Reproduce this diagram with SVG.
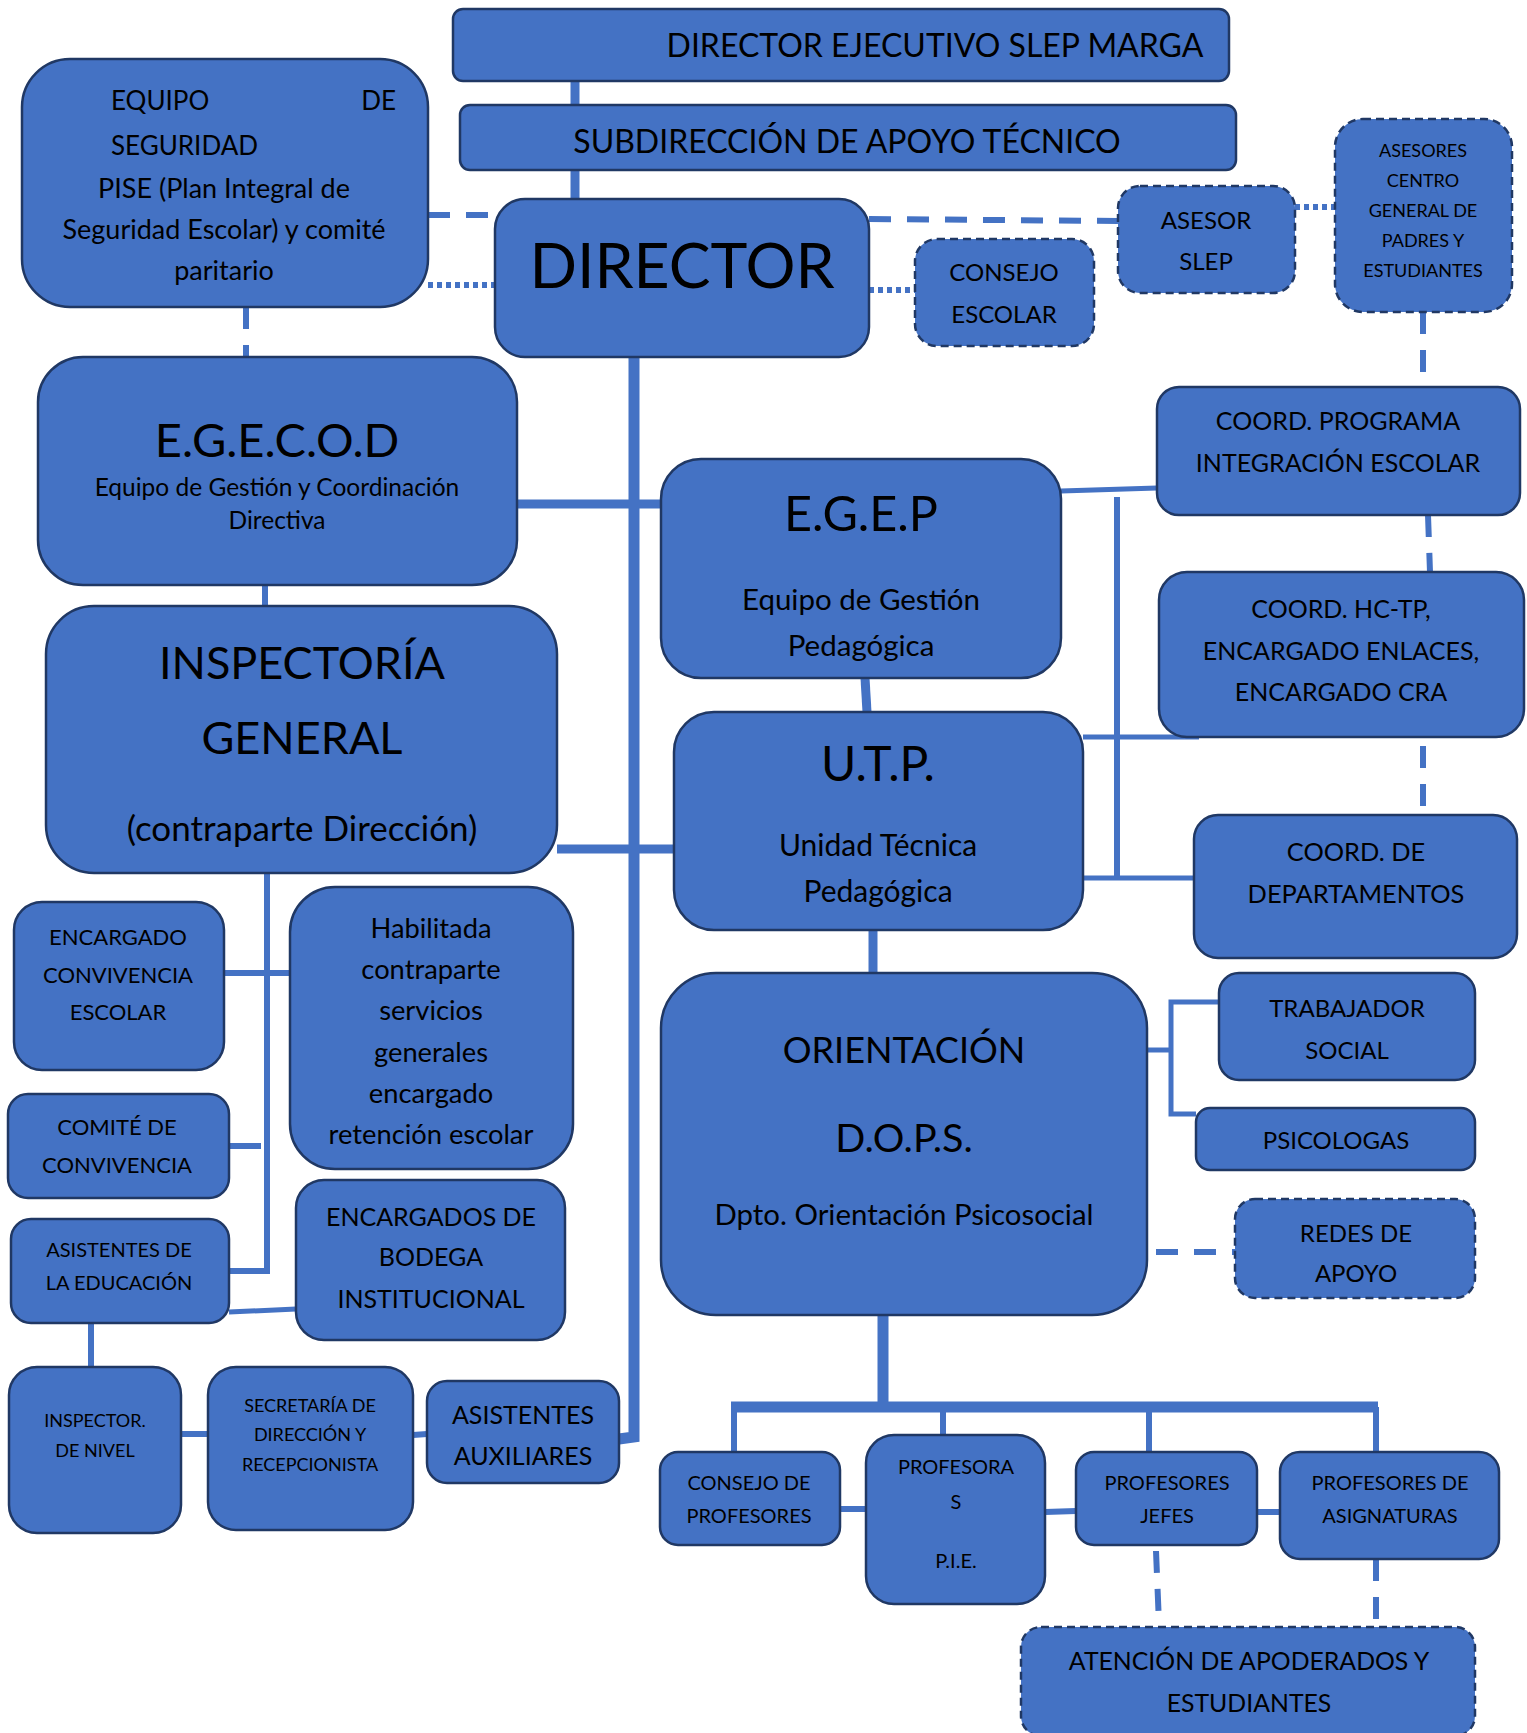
<svg xmlns="http://www.w3.org/2000/svg" width="1527" height="1733" viewBox="0 0 1527 1733">
<style>
.n{fill:#4472C4;stroke:#203864;stroke-width:2.5}
.d{fill:#4472C4;stroke:#203864;stroke-width:2.5;stroke-dasharray:8 5}
text{font-family:Lato,"Open Sans","Liberation Sans",sans-serif;fill:#000;text-anchor:middle}
text.s{text-anchor:start}
text.e{text-anchor:end}
.c{stroke:#4472C4;fill:none}
.dash{stroke:#4472C4;fill:none;stroke-width:6;stroke-dasharray:22 16}
.dot{stroke:#4472C4;fill:none;stroke-width:6;stroke-dasharray:5 4}
</style>
<rect width="1527" height="1733" fill="#fff"/>
<g id="connectors">
<line class="c" x1="575" y1="81" x2="575" y2="105" stroke-width="9"/>
<line class="c" x1="575" y1="170" x2="575" y2="199" stroke-width="9"/>
<line class="dash" x1="428" y1="215" x2="495" y2="215"/>
<line class="dot" x1="428" y1="285" x2="495" y2="285"/>
<line class="dash" x1="246" y1="307" x2="246" y2="357" stroke-dasharray="22 17"/>
<line class="dash" x1="869" y1="219" x2="1118" y2="221"/>
<line class="dot" x1="869" y1="290" x2="915" y2="290"/>
<line class="dot" x1="1295" y1="207" x2="1335" y2="207"/>
<line class="dash" x1="1423" y1="312" x2="1423" y2="387" stroke-dasharray="24 14"/>
<line class="c" x1="265" y1="585" x2="265" y2="606" stroke-width="6"/>
<polyline class="c" points="634,357 634,1437 619,1439" stroke-width="11"/>
<line class="c" x1="517" y1="504" x2="661" y2="504" stroke-width="9"/>
<line class="c" x1="557" y1="849" x2="674" y2="849" stroke-width="9"/>
<line class="c" x1="865" y1="678" x2="867" y2="712" stroke-width="9"/>
<line class="c" x1="873" y1="930" x2="873" y2="973" stroke-width="9"/>
<line class="c" x1="1061" y1="491" x2="1157" y2="488" stroke-width="5"/>
<line class="c" x1="1117" y1="497" x2="1117" y2="878" stroke-width="6"/>
<line class="c" x1="1083" y1="737" x2="1199" y2="737" stroke-width="5"/>
<line class="c" x1="1083" y1="878" x2="1194" y2="878" stroke-width="5"/>
<line class="dash" x1="1428" y1="515" x2="1430" y2="572" stroke-dasharray="20 16"/>
<line class="dash" x1="1423" y1="746" x2="1423" y2="815" stroke-dasharray="22 16"/>
<polyline class="c" points="1147,1050 1171,1050" stroke-width="5"/>
<polyline class="c" points="1219,1002 1171,1002 1171,1114 1196,1114" stroke-width="5"/>
<line class="dash" x1="1156" y1="1252" x2="1235" y2="1252"/>
<line class="c" x1="883" y1="1315" x2="883" y2="1407" stroke-width="11"/>
<line class="c" x1="731" y1="1407" x2="1378" y2="1407" stroke-width="11"/>
<line class="c" x1="734" y1="1407" x2="734" y2="1452" stroke-width="6"/>
<line class="c" x1="943" y1="1407" x2="943" y2="1435" stroke-width="6"/>
<line class="c" x1="1149" y1="1407" x2="1149" y2="1452" stroke-width="6"/>
<line class="c" x1="1376" y1="1407" x2="1376" y2="1452" stroke-width="6"/>
<line class="c" x1="840" y1="1509" x2="866" y2="1509" stroke-width="6"/>
<line class="c" x1="1045" y1="1512" x2="1076" y2="1511" stroke-width="6"/>
<line class="c" x1="1257" y1="1512" x2="1280" y2="1512" stroke-width="6"/>
<line class="dash" x1="1156" y1="1551" x2="1159" y2="1624" stroke-dasharray="24 18"/>
<line class="dash" x1="1376" y1="1559" x2="1376" y2="1624" stroke-dasharray="22 18"/>
<polyline class="c" points="267,873 267,1271 229,1271" stroke-width="6"/>
<line class="c" x1="224" y1="973" x2="290" y2="973" stroke-width="6"/>
<line class="c" x1="229" y1="1146" x2="261" y2="1146" stroke-width="6"/>
<line class="c" x1="229" y1="1312" x2="296" y2="1309" stroke-width="5"/>
<line class="c" x1="91" y1="1323" x2="91" y2="1367" stroke-width="6"/>
<line class="c" x1="181" y1="1434" x2="208" y2="1434" stroke-width="6"/>
<line class="c" x1="413" y1="1435" x2="427" y2="1434" stroke-width="6"/>
</g>
<g id="ejecutivo"><rect class="n" x="453" y="9" width="776" height="72" rx="10"/><text x="935" y="57" font-size="32">DIRECTOR EJECUTIVO SLEP MARGA</text></g>
<g id="subdireccion"><rect class="n" x="460" y="105" width="776" height="65" rx="10"/><text x="847" y="153" font-size="32">SUBDIRECCIÓN DE APOYO TÉCNICO</text></g>
<g id="director"><rect class="n" x="495" y="199" width="374" height="158" rx="30"/><text x="682" y="288" font-size="62.5">DIRECTOR</text></g>
<g id="seguridad"><rect class="n" x="22" y="59" width="406" height="248" rx="48"/>
<text class="s" x="111" y="110" font-size="26">EQUIPO</text><text class="e" x="396" y="110" font-size="26">DE</text>
<text class="s" x="111" y="155" font-size="26">SEGURIDAD</text>
<text x="224" y="198" font-size="27">PISE (Plan Integral de</text>
<text x="224" y="239" font-size="27">Seguridad Escolar) y comité</text>
<text x="224" y="280" font-size="27">paritario</text></g>
<g id="consejo-escolar"><rect class="d" x="915" y="239" width="179" height="107" rx="22"/><text x="1004" y="281" font-size="24">CONSEJO</text><text x="1004" y="323" font-size="24">ESCOLAR</text></g>
<g id="asesor-slep"><rect class="d" x="1118" y="186" width="177" height="107" rx="22"/><text x="1206" y="229" font-size="24">ASESOR</text><text x="1206" y="270" font-size="24">SLEP</text></g>
<g id="asesores-centro"><rect class="d" x="1335" y="119" width="177" height="193" rx="28"/>
<text x="1423" y="157" font-size="18">ASESORES</text><text x="1423" y="187" font-size="18">CENTRO</text><text x="1423" y="217" font-size="18">GENERAL DE</text><text x="1423" y="247" font-size="18">PADRES Y</text><text x="1423" y="277" font-size="18">ESTUDIANTES</text></g>
<g id="egecod"><rect class="n" x="38" y="357" width="479" height="228" rx="45"/>
<text x="277" y="457" font-size="47">E.G.E.C.O.D</text><text x="277" y="496" font-size="24.5">Equipo de Gestión y Coordinación</text><text x="277" y="529" font-size="24.5">Directiva</text></g>
<g id="inspectoria"><rect class="n" x="46" y="606" width="511" height="267" rx="48"/>
<text x="302" y="679" font-size="45">INSPECTORÍA</text><text x="302" y="754" font-size="45">GENERAL</text><text x="302" y="841" font-size="35">(contraparte Dirección)</text></g>
<g id="egep"><rect class="n" x="661" y="459" width="400" height="219" rx="40"/>
<text x="861" y="531" font-size="48.5">E.G.E.P</text><text x="861" y="610" font-size="29.5">Equipo de Gestión</text><text x="861" y="656" font-size="29.5">Pedagógica</text></g>
<g id="utp"><rect class="n" x="674" y="712" width="409" height="218" rx="40"/>
<text x="878" y="781" font-size="48">U.T.P.</text><text x="878" y="856" font-size="30">Unidad Técnica</text><text x="878" y="902" font-size="30">Pedagógica</text></g>
<g id="coord-pie"><rect class="n" x="1157" y="387" width="363" height="128" rx="22"/><text x="1338" y="430" font-size="25">COORD. PROGRAMA</text><text x="1338" y="472" font-size="25">INTEGRACIÓN ESCOLAR</text></g>
<g id="coord-hctp"><rect class="n" x="1159" y="572" width="365" height="165" rx="28"/><text x="1341" y="618" font-size="25">COORD. HC-TP,</text><text x="1341" y="660" font-size="25">ENCARGADO ENLACES,</text><text x="1341" y="701" font-size="25">ENCARGADO CRA</text></g>
<g id="coord-dep"><rect class="n" x="1194" y="815" width="323" height="143" rx="24"/><text x="1356" y="861" font-size="25.4">COORD. DE</text><text x="1356" y="903" font-size="25.4">DEPARTAMENTOS</text></g>
<g id="orientacion"><rect class="n" x="661" y="973" width="486" height="342" rx="55"/>
<text x="904" y="1063" font-size="36">ORIENTACIÓN</text><text x="904" y="1152" font-size="39.5">D.O.P.S.</text><text x="904" y="1225" font-size="29.4">Dpto. Orientación Psicosocial</text></g>
<g id="trabajador"><rect class="n" x="1219" y="973" width="256" height="107" rx="20"/><text x="1347" y="1017" font-size="24">TRABAJADOR</text><text x="1347" y="1059" font-size="24">SOCIAL</text></g>
<g id="psicologas"><rect class="n" x="1196" y="1108" width="279" height="62" rx="14"/><text x="1336" y="1149" font-size="24">PSICOLOGAS</text></g>
<g id="redes"><rect class="d" x="1235" y="1199" width="240" height="99" rx="20"/><text x="1356" y="1242" font-size="24">REDES DE</text><text x="1356" y="1282" font-size="24">APOYO</text></g>
<g id="consejo-prof"><rect class="n" x="660" y="1452" width="180" height="93" rx="18"/><text x="749" y="1490" font-size="20">CONSEJO DE</text><text x="749" y="1523" font-size="20">PROFESORES</text></g>
<g id="profesoras-pie"><rect class="n" x="866" y="1435" width="179" height="169" rx="28"/><text x="956" y="1474" font-size="20">PROFESORA</text><text x="956" y="1509" font-size="20">S</text><text x="956" y="1568" font-size="20">P.I.E.</text></g>
<g id="prof-jefes"><rect class="n" x="1076" y="1452" width="181" height="93" rx="18"/><text x="1167" y="1490" font-size="20">PROFESORES</text><text x="1167" y="1523" font-size="20">JEFES</text></g>
<g id="prof-asig"><rect class="n" x="1280" y="1452" width="219" height="107" rx="20"/><text x="1390" y="1490" font-size="20">PROFESORES DE</text><text x="1390" y="1523" font-size="20">ASIGNATURAS</text></g>
<g id="atencion"><rect class="d" x="1021" y="1627" width="454" height="109" rx="20"/><text x="1249" y="1670" font-size="24.8">ATENCIÓN DE APODERADOS Y</text><text x="1249" y="1712" font-size="24.8">ESTUDIANTES</text></g>
<g id="enc-convivencia"><rect class="n" x="14" y="902" width="210" height="168" rx="28"/><text x="118" y="945" font-size="22">ENCARGADO</text><text x="118" y="983" font-size="22">CONVIVENCIA</text><text x="118" y="1020" font-size="22">ESCOLAR</text></g>
<g id="habilitada"><rect class="n" x="290" y="887" width="283" height="282" rx="45"/>
<text x="431" y="938" font-size="27.3">Habilitada</text><text x="431" y="979" font-size="27.3">contraparte</text><text x="431" y="1020" font-size="27.3">servicios</text><text x="431" y="1062" font-size="27.3">generales</text><text x="431" y="1103" font-size="27.3">encargado</text><text x="431" y="1144" font-size="27.3">retención escolar</text></g>
<g id="comite"><rect class="n" x="8" y="1094" width="221" height="104" rx="20"/><text x="117" y="1135" font-size="22">COMITÉ DE</text><text x="117" y="1173" font-size="22">CONVIVENCIA</text></g>
<g id="asistentes-edu"><rect class="n" x="11" y="1219" width="218" height="104" rx="20"/><text x="119" y="1257" font-size="20">ASISTENTES DE</text><text x="119" y="1290" font-size="20">LA EDUCACIÓN</text></g>
<g id="bodega"><rect class="n" x="296" y="1180" width="269" height="160" rx="28"/><text x="431" y="1226" font-size="25">ENCARGADOS DE</text><text x="431" y="1266" font-size="25">BODEGA</text><text x="431" y="1308" font-size="25">INSTITUCIONAL</text></g>
<g id="inspector-nivel"><rect class="n" x="9" y="1367" width="172" height="166" rx="28"/><text x="95" y="1427" font-size="18">INSPECTOR.</text><text x="95" y="1457" font-size="18">DE NIVEL</text></g>
<g id="secretaria"><rect class="n" x="208" y="1367" width="205" height="163" rx="28"/><text x="310" y="1412" font-size="18">SECRETARÍA DE</text><text x="310" y="1441" font-size="18">DIRECCIÓN Y</text><text x="310" y="1471" font-size="18">RECEPCIONISTA</text></g>
<g id="asistentes-aux"><rect class="n" x="427" y="1381" width="192" height="102" rx="20"/><text x="523" y="1424" font-size="25">ASISTENTES</text><text x="523" y="1465" font-size="25">AUXILIARES</text></g>
</svg>
